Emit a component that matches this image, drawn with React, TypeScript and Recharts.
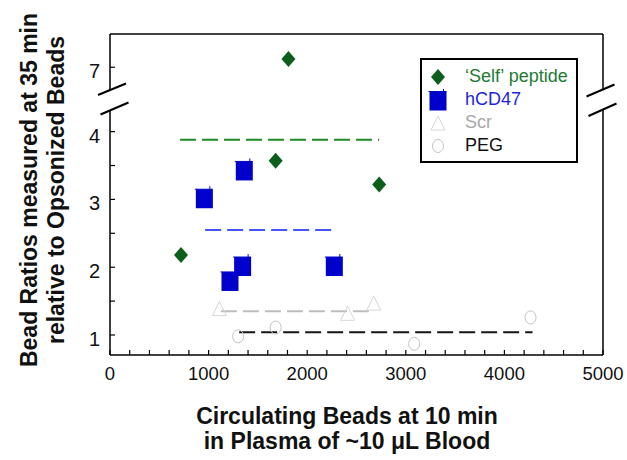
import { ComposedChart, Scatter, XAxis, YAxis, ReferenceLine } from 'recharts';

const seriesNames = ['\u2018Self\u2019 peptide', 'hCD47', 'Scr', 'PEG'];

const selfPeptideX = [720, 1680, 2730, 1810];
const selfPeptideY = [2.18, 3.57, 3.22, 7.12];
const hcd47X = [957, 1362, 1345, 1217, 2275];
const hcd47Y = [3.01, 3.42, 2.01, 1.79, 2.01];
const scrX = [1110, 2410, 2675];
const scrY = [1.39, 1.32, 1.47];
const pegX = [1300, 1680, 3085, 4265];
const pegY = [0.98, 1.11, 0.87, 1.26];

// dashed mean lines, same order as seriesNames
const meanLevel = [3.88, 2.55, 1.35, 1.04];
const meanStart = [710, 965, 1125, 1310];
const meanEnd = [2730, 2250, 2630, 4285];

const xTicks = [0, 200, 400, 600, 800, 1000, 1200, 1400, 1600, 1800, 2000, 2200, 2400, 2600, 2800, 3000,
  3200, 3400, 3600, 3800, 4000, 4200, 4400, 4600, 4800, 5000];
const yTicks = [1, 1.5, 2, 2.5, 3, 3.5, 4, 7];

// broken y axis: everything above the break is shifted down
const Y_BREAK = 4.5;
const BREAK_SHIFT = 2.05;
const toAxis = (v: number) => (v > Y_BREAK ? v - BREAK_SHIFT : v);
const fromAxis = (v: number) => (v > 4.25 ? v + BREAK_SHIFT : v);
const Y_DOMAIN = [0.705, 5.44];

const FONT = '"Liberation Sans", Arial, Helvetica, sans-serif';
const MEAN_COLORS = ['#1b8a22', '#4455ff', '#bdbdbd', '#151515'];
const TICK = 5;

const toPoints = (xs: number[], ys: number[]) => xs.map((x, i) => ({ x, y: toAxis(ys[i]) }));
const selfData = toPoints(selfPeptideX, selfPeptideY);
const hcd47Data = toPoints(hcd47X, hcd47Y);
const scrData = toPoints(scrX, scrY);
const pegData = toPoints(pegX, pegY);

const Diamond = ({ cx, cy }: any) => (
  <path d={`M${cx},${cy - 8}L${cx + 7},${cy}L${cx},${cy + 8}L${cx - 7},${cy}Z`} fill="#0b5e1b" />
);

const Square = ({ cx, cy }: any) => (
  <g>
    <rect x={cx - 8.5} y={cy - 9.5} width={17} height={19} fill="#0000cc" />
    <line x1={cx - 9.5} y1={cy - 9.5} x2={cx + 8.5} y2={cy - 9.5} stroke="#0000cc" strokeWidth={1} />
    <line x1={cx + 5.5} y1={cy - 9.5} x2={cx + 5.5} y2={cy - 12.5} stroke="#0000cc" strokeWidth={1} />
  </g>
);

const Triangle = ({ cx, cy }: any) => (
  <path d={`M${cx},${cy - 7}L${cx + 7},${cy + 7}L${cx - 7},${cy + 7}Z`} fill="none" stroke="#d6d6d6" strokeWidth={1} />
);

const Ring = ({ cx, cy }: any) => (
  <ellipse cx={cx} cy={cy} rx={5.5} ry={6.5} fill="none" stroke="#c4c4c4" strokeWidth={1} />
);

// tick components draw the inward tick mark themselves
function BottomTick({ x, y, payload }: any) {
  const v = payload.value;
  return (
    <g>
      <line x1={x} y1={y} x2={x} y2={y - TICK} stroke="#000" strokeWidth={1.2} />
      {v % 1000 === 0 && (
        <text x={x} y={y + 25} textAnchor="middle" fontSize={18.5} fontFamily={FONT} fill="#111">
          {v}
        </text>
      )}
    </g>
  );
}

function TopTick({ x, y }: any) {
  return <line x1={x} y1={y} x2={x} y2={y + TICK} stroke="#000" strokeWidth={1.2} />;
}

function LeftTick({ x, y, payload }: any) {
  const real = Math.round(fromAxis(payload.value) * 100) / 100;
  return (
    <g>
      <line x1={x} y1={y} x2={x + TICK} y2={y} stroke="#000" strokeWidth={1.2} />
      {Number.isInteger(real) && (
        <text x={x - 10} y={y + 11} textAnchor="end" fontSize={20} fontFamily={FONT} fill="#111">
          {real}
        </text>
      )}
    </g>
  );
}

function RightTick({ x, y }: any) {
  return <line x1={x} y1={y} x2={x - TICK} y2={y} stroke="#000" strokeWidth={1.2} />;
}

const legendIcons = [
  <Diamond cx={10} cy={11} />,
  <Square cx={10} cy={12} />,
  <Triangle cx={10} cy={11} />,
  <Ring cx={10} cy={11} />,
];
const legendText = ['#237a33', '#1f1fdd', '#a8a8a8', '#111'];

export default function App() {
  const axisLine = { stroke: '#000', strokeWidth: 1.5 };
  return (
    <div style={{ position: 'absolute', left: 0, top: 0, width: 627, height: 460, background: '#fff' }}>
      <ComposedChart width={627} height={460} margin={{ top: 34, right: 24, bottom: 0, left: 0 }}>
        <XAxis
          type="number"
          dataKey="x"
          domain={[0, 5000]}
          ticks={xTicks}
          interval={0}
          height={105}
          tickSize={0}
          tickMargin={0}
          axisLine={axisLine}
          tickLine={false}
          tick={<BottomTick />}
        />
        <XAxis
          xAxisId="top"
          orientation="top"
          mirror
          type="number"
          domain={[0, 5000]}
          ticks={xTicks}
          interval={0}
          height={1}
          tickSize={0}
          tickMargin={0}
          axisLine={axisLine}
          tickLine={false}
          tick={<TopTick />}
        />
        <YAxis
          type="number"
          dataKey="y"
          domain={Y_DOMAIN}
          ticks={yTicks.map(toAxis)}
          interval={0}
          width={110}
          tickSize={0}
          tickMargin={0}
          axisLine={axisLine}
          tickLine={false}
          tick={<LeftTick />}
        />
        <YAxis
          yAxisId="right"
          orientation="right"
          mirror
          type="number"
          domain={Y_DOMAIN}
          ticks={yTicks.map(toAxis)}
          interval={0}
          width={1}
          tickSize={0}
          tickMargin={0}
          axisLine={axisLine}
          tickLine={false}
          tick={<RightTick />}
        />
        {meanLevel.map((lvl, i) => (
          <ReferenceLine
            key={i}
            segment={[{ x: meanStart[i], y: lvl }, { x: meanEnd[i], y: lvl }]}
            stroke={MEAN_COLORS[i]}
            strokeWidth={2}
            strokeDasharray="16 6"
          />
        ))}
        <Scatter name={seriesNames[3]} data={pegData} shape={<Ring />} isAnimationActive={false} />
        <Scatter name={seriesNames[2]} data={scrData} shape={<Triangle />} isAnimationActive={false} />
        <Scatter name={seriesNames[1]} data={hcd47Data} shape={<Square />} isAnimationActive={false} />
        <Scatter name={seriesNames[0]} data={selfData} shape={<Diamond />} isAnimationActive={false} />
      </ComposedChart>

      <svg width={627} height={460} style={{ position: 'absolute', left: 0, top: 0, pointerEvents: 'none' }}>
        <rect x={107} y={90} width={7} height={20} fill="#fff" />
        <rect x={600} y={90} width={7} height={20} fill="#fff" />
        <g stroke="#000" strokeWidth={2}>
          <line x1={98} y1={95} x2={126} y2={83.5} />
          <line x1={100.5} y1={114.5} x2={128.5} y2={102.5} />
          <line x1={586.5} y1={96.5} x2={614.5} y2={84.5} />
          <line x1={588.5} y1={116} x2={616.5} y2={103.5} />
        </g>
        <g fontFamily={FONT} fontWeight="bold" fontSize={23} fill="#111" textAnchor="middle">
          <text transform="translate(37,190) rotate(-90)">Bead Ratios measured at 35 min</text>
          <text transform="translate(63.5,190) rotate(-90)">relative to Opsonized Beads</text>
          <text x={347} y={424}>Circulating Beads at 10 min</text>
          <text x={347} y={449}>in Plasma of ~10 {'\u03bc'}L Blood</text>
        </g>
      </svg>

      <div
        style={{
          position: 'absolute',
          left: 420,
          top: 58,
          width: 158,
          height: 105,
          boxSizing: 'border-box',
          border: '2px solid #000',
          background: '#fff',
          paddingTop: 5,
          fontFamily: FONT,
          fontSize: 18,
        }}
      >
        {seriesNames.map((name, i) => (
          <div key={name} style={{ display: 'flex', alignItems: 'center', height: 23 }}>
            <svg width={20} height={22} style={{ marginLeft: 6 }}>
              {legendIcons[i]}
            </svg>
            <span style={{ marginLeft: 17, color: legendText[i], lineHeight: '23px' }}>{name}</span>
          </div>
        ))}
      </div>
    </div>
  );
}
